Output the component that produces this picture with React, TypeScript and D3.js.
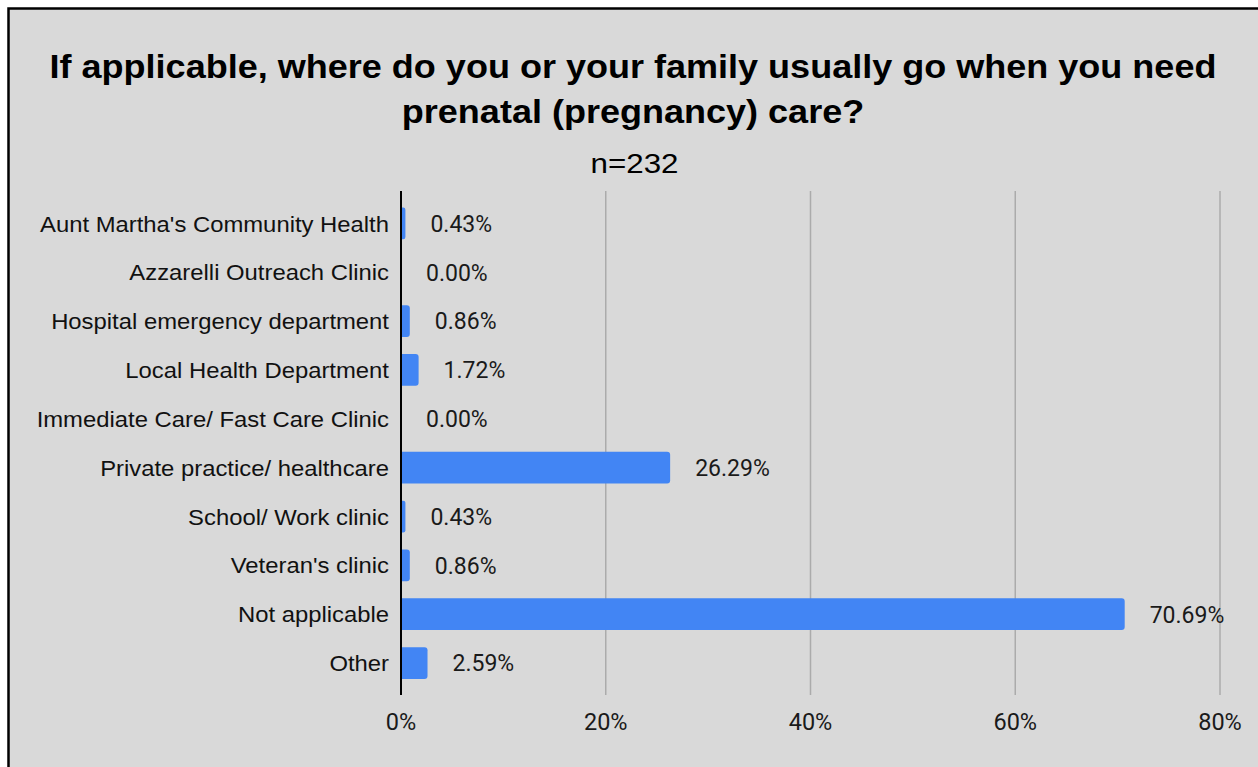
import React from "react";
import * as d3 from "d3";

const categories: string[] = [
  "Aunt Martha's Community Health",
  "Azzarelli Outreach Clinic",
  "Hospital emergency department",
  "Local Health Department",
  "Immediate Care/ Fast Care Clinic",
  "Private practice/ healthcare",
  "School/ Work clinic",
  "Veteran's clinic",
  "Not applicable",
  "Other",
];
const values: number[] = [0.43, 0.0, 0.86, 1.72, 0.0, 26.29, 0.43, 0.86, 70.69, 2.59];
const tickValues: number[] = [0, 20, 40, 60, 80];
const titleLines: string[] = [
  "If applicable, where do you or your family usually go when you need",
  "prenatal (pregnancy) care?",
];
const subtitle = "n=232";

const W = 1258;
const H = 767;
const plotLeft = 401;
const plotRight = 1220;
const axisTop = 191;
const axisBottom = 695;

function barPath(x0: number, x1: number, y: number, h: number): string {
  const w = x1 - x0;
  if (w <= 0) return "";
  const r = Math.min(3, w / 2, h / 2);
  return `M${x0},${y}H${x1 - r}A${r},${r} 0 0 1 ${x1},${y + r}V${y + h - r}A${r},${r} 0 0 1 ${x1 - r},${y + h}H${x0}Z`;
}

export default function App() {
  const x = d3.scaleLinear().domain([0, 80]).range([plotLeft, plotRight]);
  const y = d3
    .scaleBand<string>()
    .domain(categories)
    .range([199, 687.5])
    .paddingInner(0.35)
    .paddingOuter(0.175);
  const bh = y.bandwidth();
  const labelFont = "'Liberation Sans', Arial, sans-serif";
  const numFont = "Roboto, 'Liberation Sans', Arial, sans-serif";

  return (
    <svg
      width={W}
      height={H}
      style={{ position: "absolute", left: 0, top: 0, display: "block" }}
    >
      <rect x={0} y={0} width={W} height={H} fill="#ffffff" />
      <rect
        x={8.5}
        y={8.5}
        width={W + 20}
        height={H + 20}
        fill="#d9d9d9"
        stroke="#000000"
        strokeWidth={2.5}
      />
      {titleLines.map((t, i) => (
        <g key={i} transform={`translate(633,${77.5 + i * 45}) scale(1.06,1)`}>
          <text
            x={0}
            y={0}
            textAnchor="middle"
            fontFamily={labelFont}
            fontWeight="bold"
            fontSize={34}
            fill="#000000"
          >
            {t}
          </text>
        </g>
      ))}
      <g transform="translate(634.5,173) scale(1.12,1)">
        <text
          x={0}
          y={0}
          textAnchor="middle"
          fontFamily={labelFont}
          fontSize={28}
          fill="#000000"
        >
          {subtitle}
        </text>
      </g>
      {tickValues
        .filter((t) => t !== 0)
        .map((t) => (
          <line
            key={"g" + t}
            x1={x(t)}
            x2={x(t)}
            y1={axisTop}
            y2={axisBottom}
            stroke="#ababab"
            strokeWidth={1.5}
          />
        ))}
      {categories.map((c, i) => {
        const yy = y(c) as number;
        const cy = yy + bh / 2;
        return (
          <g key={c}>
            <path d={barPath(x(0), x(values[i]), yy, bh)} fill="#4285f4" />
            <g transform={`translate(389,${cy}) scale(1.06,1)`}>
              <text
                x={0}
                y={0}
                dy="0.36em"
                textAnchor="end"
                fontFamily={labelFont}
                fontSize={22.5}
                fill="#111111"
              >
                {c}
              </text>
            </g>
            <text
              x={x(values[i]) + 25}
              y={cy}
              dy="0.36em"
              textAnchor="start"
              fontFamily={numFont}
              fontSize={23}
              fill="#1a1a1a"
            >
              {values[i].toFixed(2) + "%"}
            </text>
          </g>
        );
      })}
      <line
        x1={x(0)}
        x2={x(0)}
        y1={axisTop}
        y2={axisBottom}
        stroke="#000000"
        strokeWidth={2}
      />
      {tickValues.map((t) => (
        <text
          key={"t" + t}
          x={x(t)}
          y={730}
          textAnchor="middle"
          fontFamily={numFont}
          fontSize={23.5}
          fill="#1a1a1a"
        >
          {t + "%"}
        </text>
      ))}
    </svg>
  );
}
